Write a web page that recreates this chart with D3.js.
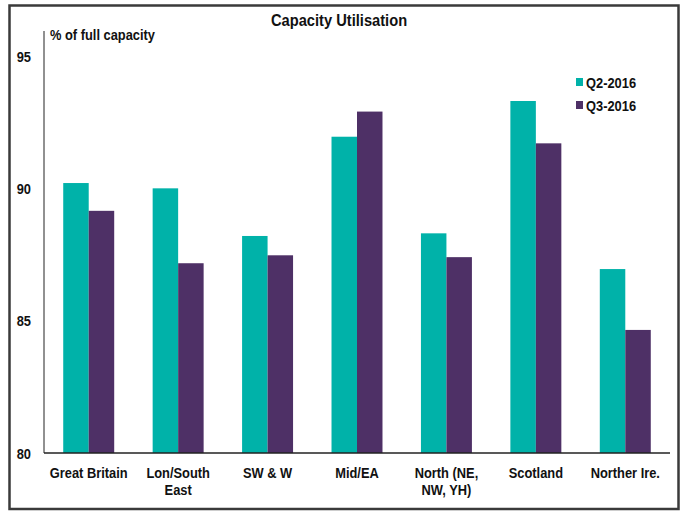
<!DOCTYPE html>
<html>
<head>
<meta charset="utf-8">
<script src="https://cdn.jsdelivr.net/npm/d3@7"></script>
<style>
  body { margin: 0; background: #fff; }
  text { font-family: "Liberation Sans", Arial, sans-serif; font-weight: bold; fill: #111; }
</style>
</head>
<body>
<svg id="canvas"></svg>
<script>
let categories = [['Great Britain'], ['Lon/South', 'East'], ['SW & W'], ['Mid/EA'], ['North (NE,', 'NW, YH)'], ['Scotland'], ['Norther Ire.']];
let seriesNames = ['Q2-2016', 'Q3-2016'];
let q2 = [90.2, 90.0, 88.2, 91.95, 88.3, 93.3, 86.95];
let q3 = [89.15, 87.17, 87.47, 92.9, 87.4, 91.7, 84.65];
let yTicks = [80, 85, 90, 95];
let colors = ['#00B2A9', '#4E3066'];

let width = 683;
let height = 513;

let plotLeft = 44;
let plotRight = 670;
let plotBottom = 453;
let plotTop = 31;

// the source font is a narrow one, so squeeze the text a bit
let narrow = 0.83;

let svg = d3.select('#canvas')
  .attr('width', width)
  .attr('height', height);

let addText = (x, y, str, size, anchor, sx) => {
  return svg.append('text')
    .text(str)
    .attr('transform', `translate(${x}, ${y}) scale(${sx}, 1)`)
    .attr('text-anchor', anchor)
    .style('font-size', size + 'px');
}

// frame
svg.append('rect')
  .attr('x', 9.5)
  .attr('y', 5.5)
  .attr('width', 669)
  .attr('height', 503.5)
  .attr('fill', 'none')
  .attr('stroke', '#3a3a3a')
  .attr('stroke-width', 2.5);

addText(339, 25.5, 'Capacity Utilisation', 16.5, 'middle', 0.89);

let keys = categories.map(c => c.join(' '));

let xScale = d3.scaleBand()
  .domain(keys)
  .range([plotLeft, plotRight])
  .paddingInner(0.43)
  .paddingOuter(0.215);

let xSub = d3.scaleBand()
  .domain(seriesNames)
  .range([0, xScale.bandwidth()]);

let yScale = d3.scaleLinear()
  .domain([80, 95])
  .range([plotBottom, 56]);

let rows = keys.map((k, i) => ({ key: k, values: [q2[i], q3[i]] }));

let groups = svg.selectAll('g.group')
  .data(rows)
  .enter()
  .append('g')
  .attr('class', 'group')
  .attr('transform', d => `translate(${xScale(d.key)}, 0)`);

groups.selectAll('rect')
  .data(d => d.values.map((v, j) => ({ name: seriesNames[j], value: v, j: j })))
  .enter()
  .append('rect')
  .attr('x', d => xSub(d.name))
  .attr('width', xSub.bandwidth())
  .attr('y', d => yScale(d.value))
  .attr('height', d => yScale(80) - yScale(d.value))
  .attr('fill', d => colors[d.j]);

// y axis (labels drawn by hand so they can be squeezed)
let yAxis = d3.axisLeft(yScale)
  .tickValues(yTicks)
  .tickSize(0)
  .tickFormat('');

let yg = svg.append('g')
  .attr('transform', `translate(${plotLeft}, 0)`)
  .call(yAxis);
yg.select('.domain').remove();

yTicks.forEach(t => {
  addText(31, yScale(t) + 5.5, t, 15.5, 'end', narrow);
});

svg.append('line')
  .attr('x1', plotLeft).attr('x2', plotLeft)
  .attr('y1', plotTop).attr('y2', plotBottom)
  .attr('stroke', '#222')
  .attr('stroke-width', 1);

// x axis
svg.append('line')
  .attr('x1', plotLeft).attr('x2', plotRight)
  .attr('y1', plotBottom).attr('y2', plotBottom)
  .attr('stroke', '#222')
  .attr('stroke-width', 1.3);

categories.forEach((lines, i) => {
  let cx = xScale(keys[i]) + xScale.bandwidth() / 2;
  lines.forEach((ln, k) => {
    addText(cx, 477.5 + k * 17, ln, 15.5, 'middle', narrow);
  });
});

addText(50, 40, '% of full capacity', 15.5, 'start', narrow);

// legend
let legend = svg.append('g').attr('id', 'legend');
seriesNames.forEach((name, j) => {
  legend.append('rect')
    .attr('x', 576)
    .attr('y', 78 + j * 23)
    .attr('width', 7)
    .attr('height', 8)
    .attr('fill', colors[j]);
  addText(586, 88 + j * 23, name, 15.5, 'start', narrow);
});
</script>
</body>
</html>
